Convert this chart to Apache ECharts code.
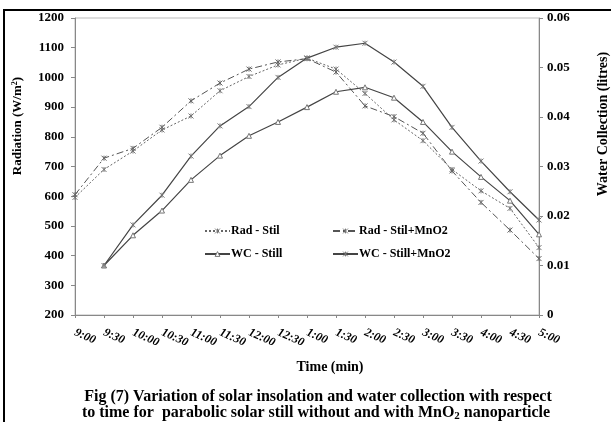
<!DOCTYPE html>
<html>
<head>
<meta charset="utf-8">
<script src="https://cdn.jsdelivr.net/npm/echarts@6/dist/echarts.min.js"></script>
<style>
html,body{margin:0;padding:0;background:#fff;}
#chart{width:611px;height:422px;}
</style>
</head>
<body>
<div id="chart"></div>
<script>
var categories = ['9:00','9:30','10:00','10:30','11:00','11:30','12:00','12:30','1:00','1:30','2:00','2:30','3:00','3:30','4:00','4:30','5:00'];
var radStil = [596, 690, 752, 823, 870, 955, 1003, 1042, 1065, 1028, 946, 857, 787, 690, 618, 559, 427];
var radStilMnO2 = [605, 728, 761, 832, 921, 981, 1028, 1052, 1063, 1018, 904, 868, 812, 685, 579, 486, 390];
var wcStill = [null, 0.010, 0.0161, 0.0211, 0.0273, 0.0322, 0.0362, 0.0390, 0.0420, 0.0451, 0.0460, 0.0439, 0.0390, 0.0330, 0.0279, 0.0231, 0.0163];
var wcStillMnO2 = [null, 0.010, 0.0182, 0.0242, 0.0321, 0.0382, 0.0421, 0.0480, 0.0519, 0.0541, 0.0549, 0.0511, 0.0462, 0.0379, 0.0311, 0.0249, 0.0192];

var FONT = '"Liberation Serif","Times New Roman",serif';
var crossSym = 'path://M0,0L10,10M10,0L0,10M5,0L5,10';
var chart = echarts.init(document.getElementById('chart'), null, {renderer: 'canvas'});

function legendAt(name, left, top, fill) {
  return {
    data: [{name: name, itemStyle: {color: fill, borderColor: '#777', borderWidth: 1}}],
    left: left, top: top, itemWidth: 25, itemHeight: 6, itemGap: 2, padding: 0,
    textStyle: {fontFamily: FONT, fontWeight: 'bold', fontSize: 12, color: '#000', padding: [0,0,0,-4]}
  };
}

var option = {
  animation: false,
  backgroundColor: '#fff',
  grid: {left: 75, right: 72, top: 18, bottom: 107, show: true, borderColor: '#bbb', borderWidth: 1, containLabel: false},
  legend: [
    legendAt('Rad - Stil', 204, 225, 'rgba(0,0,0,0)'),
    legendAt('Rad - Stil+MnO2', 332, 225, 'rgba(0,0,0,0)'),
    legendAt('WC - Still', 204, 248, '#fff'),
    legendAt('WC - Still+MnO2', 332, 248, 'rgba(0,0,0,0)')
  ],
  xAxis: {
    type: 'category', data: categories, boundaryGap: false,
    axisLine: {lineStyle: {color: '#888', width: 1}},
    axisTick: {show: true, length: 3, lineStyle: {color: '#888'}},
    axisLabel: {rotate: -24, margin: 17, fontFamily: FONT, fontWeight: 'bold', fontStyle: 'italic', fontSize: 12, color: '#000', interval: 0},
    splitLine: {show: false}
  },
  yAxis: [
    {
      type: 'value', min: 200, max: 1200, interval: 100, position: 'left',
      axisLine: {show: true, lineStyle: {color: '#888'}},
      axisTick: {show: true, length: 4, lineStyle: {color: '#888'}},
      axisLabel: {fontFamily: FONT, fontWeight: 'bold', fontSize: 13, color: '#000', margin: 11,
        formatter: function (v) { return String(v); }},
      splitLine: {show: false}
    },
    {
      type: 'value', min: 0, max: 0.06, interval: 0.01, position: 'right',
      axisLine: {show: true, lineStyle: {color: '#888'}},
      axisTick: {show: true, length: 4, lineStyle: {color: '#888'}},
      axisLabel: {fontFamily: FONT, fontWeight: 'bold', fontSize: 13, color: '#000', margin: 8,
        formatter: function (v) { return v === 0 ? '0' : v.toFixed(2); }},
      splitLine: {show: false}
    }
  ],
  series: [
    {
      name: 'Rad - Stil', type: 'line', yAxisIndex: 0, data: radStil,
      symbol: crossSym, symbolSize: 5, showAllSymbol: true,
      lineStyle: {color: '#666', width: 1, type: [2, 2]},
      itemStyle: {color: 'rgba(0,0,0,0)', borderColor: '#777', borderWidth: 1}
    },
    {
      name: 'Rad - Stil+MnO2', type: 'line', yAxisIndex: 0, data: radStilMnO2,
      symbol: crossSym, symbolSize: 5, showAllSymbol: true,
      lineStyle: {color: '#555', width: 1, type: [7, 3, 2, 3]},
      itemStyle: {color: 'rgba(0,0,0,0)', borderColor: '#666', borderWidth: 1}
    },
    {
      name: 'WC - Still', type: 'line', yAxisIndex: 1, data: wcStill,
      symbol: 'triangle', symbolSize: 5, showAllSymbol: true, connectNulls: false,
      lineStyle: {color: '#444', width: 1.2, type: 'solid'},
      itemStyle: {color: '#fff', borderColor: '#777', borderWidth: 1}
    },
    {
      name: 'WC - Still+MnO2', type: 'line', yAxisIndex: 1, data: wcStillMnO2,
      symbol: crossSym, symbolSize: 5, showAllSymbol: true, connectNulls: false,
      lineStyle: {color: '#444', width: 1.2, type: 'solid'},
      itemStyle: {color: 'rgba(0,0,0,0)', borderColor: '#777', borderWidth: 1}
    }
  ],
  graphic: [
    {type: 'rect', shape: {x: 4, y: 10, width: 640, height: 440}, style: {fill: 'none', stroke: '#000', lineWidth: 2}, silent: true},
    {type: 'text', x: 18, y: 126, rotation: Math.PI / 2,
      style: {text: 'Radiation (W/m{sup|2})', fontFamily: FONT, fontWeight: 'bold', fontSize: 13, fill: '#000', align: 'center', verticalAlign: 'middle',
        rich: {sup: {fontFamily: FONT, fontWeight: 'bold', fontSize: 8, fill: '#000', verticalAlign: 'top', padding: [0,0,6,0]}}}},
    {type: 'text', x: 603, y: 124, rotation: Math.PI / 2,
      style: {text: 'Water Collection (litres)', fontFamily: FONT, fontWeight: 'bold', fontSize: 14, fill: '#000', align: 'center', verticalAlign: 'middle'}},
    {type: 'text', x: 330, y: 367,
      style: {text: 'Time (min)', fontFamily: FONT, fontWeight: 'bold', fontSize: 14, fill: '#000', align: 'center', verticalAlign: 'middle'}},
    {type: 'text', x: 318, y: 397,
      style: {text: 'Fig (7) Variation of solar insolation and water collection with respect', fontFamily: FONT, fontWeight: 'bold', fontSize: 16, fill: '#000', align: 'center', verticalAlign: 'middle'}},
    {type: 'text', x: 316, y: 413,
      style: {text: 'to time for  parabolic solar still without and with MnO{sub|2} nanoparticle', fontFamily: FONT, fontWeight: 'bold', fontSize: 16, fill: '#000', align: 'center', verticalAlign: 'middle',
        rich: {sub: {fontFamily: FONT, fontWeight: 'bold', fontSize: 11, fill: '#000', verticalAlign: 'bottom', padding: [7,0,0,0]}}}}
  ]
};
chart.setOption(option);
</script>
</body>
</html>
